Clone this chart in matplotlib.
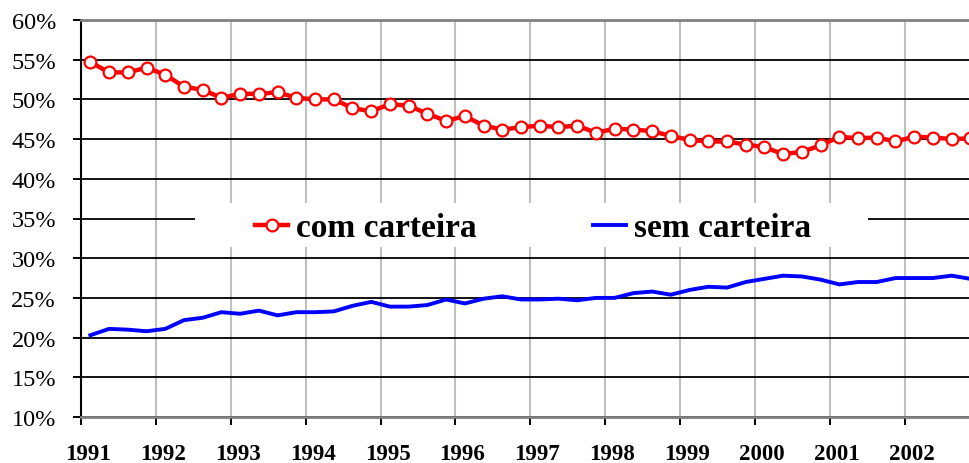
"""
participacao dos empregados com e sem carteira, trimestral 1991-2002
"""

import numpy as np
import matplotlib.pyplot as plt
import matplotlib.transforms as mtransforms
from matplotlib.patches import Rectangle
from matplotlib.ticker import FuncFormatter


years = list(range(1991, 2003))
quarters = [y + (q - 0.5) / 4 for y in years for q in range(1, 5)]

com_carteira = [
    54.7, 53.4, 53.4, 54.0, 53.1, 51.6, 51.2, 50.2,
    50.7, 50.7, 50.9, 50.2, 50.0, 50.0, 48.9, 48.5,
    49.4, 49.2, 48.2, 47.3, 47.9, 46.7, 46.2, 46.5,
    46.7, 46.5, 46.7, 45.8, 46.3, 46.2, 46.0, 45.4,
    44.9, 44.7, 44.7, 44.3, 44.0, 43.1, 43.4, 44.2,
    45.3, 45.1, 45.2, 44.7, 45.3, 45.2, 45.0, 45.1,
]

sem_carteira = [
    20.3, 21.1, 21.0, 20.8, 21.1, 22.2, 22.5, 23.2,
    23.0, 23.4, 22.8, 23.2, 23.2, 23.3, 24.0, 24.5,
    23.9, 23.9, 24.1, 24.8, 24.3, 24.9, 25.2, 24.8,
    24.8, 24.9, 24.7, 25.0, 25.0, 25.6, 25.8, 25.4,
    26.0, 26.4, 26.3, 27.0, 27.4, 27.8, 27.7, 27.3,
    26.7, 27.0, 27.0, 27.5, 27.5, 27.5, 27.8, 27.4,
]

labels = ['com carteira', 'sem carteira']


def graph_series():

    plt.rcParams['font.family'] = ['Liberation Serif', 'DejaVu Serif']

    fig = plt.figure(figsize=(9.7, 4.64), dpi=100)
    ax = fig.add_axes([81 / 970, 46 / 464, 889 / 970, 397 / 464])

    ax.plot(quarters, com_carteira, color='#ff0000', lw=3.2,
            marker='o', markersize=8.5, markerfacecolor='white',
            markeredgecolor='#ff0000', markeredgewidth=1.6,
            label=labels[0], zorder=3)
    ax.plot(quarters, sem_carteira, color='#0000ff', lw=2.8,
            label=labels[1], zorder=3)

    ax.set_xlim(1991, 2002.87)
    ax.set_ylim(10, 60)

    ax.set_yticks(np.arange(10, 61, 5))
    ax.yaxis.set_major_formatter(FuncFormatter(lambda v, p: '%d%%' % v))
    ax.set_xticks(years)
    ax.set_xticklabels([str(y) for y in years], fontweight='bold')

    ax.tick_params(axis='y', labelsize=17.5, length=6, width=1.4, pad=12)
    ax.tick_params(axis='x', labelsize=16.5, length=5.5, width=1.4, pad=13.5)
    offset = mtransforms.ScaledTranslation(7 / 100, 0, fig.dpi_scale_trans)
    for lab in ax.get_xticklabels():
        lab.set_transform(lab.get_transform() + offset)

    ax.set_axisbelow(True)
    ax.yaxis.grid(True, color='black', lw=1.3)
    ax.xaxis.grid(True, color='#c0c0c0', lw=1.5)

    ax.spines['left'].set_color('black')
    ax.spines['left'].set_linewidth(1.5)
    ax.spines['top'].set_color('#808080')
    ax.spines['top'].set_linewidth(2.0)
    ax.spines['bottom'].set_color('#808080')
    ax.spines['bottom'].set_linewidth(2.0)
    ax.spines['right'].set_visible(False)

    # white box behind the legend hides the grid
    box = Rectangle((114 / 889, 170 / 397), 673 / 889, 44 / 397,
                    transform=ax.transAxes, facecolor='white',
                    edgecolor='none', zorder=1)
    ax.add_patch(box)

    ax.legend(loc='center', bbox_to_anchor=(452 / 889, 189 / 397),
              ncol=2, frameon=False, handlelength=1.0,
              handletextpad=0.22, columnspacing=3.5,
              prop={'weight': 'bold', 'size': 24})

    fig.savefig('out.png', dpi=100)


def main():

    graph_series()


if __name__ == '__main__':
    main()
